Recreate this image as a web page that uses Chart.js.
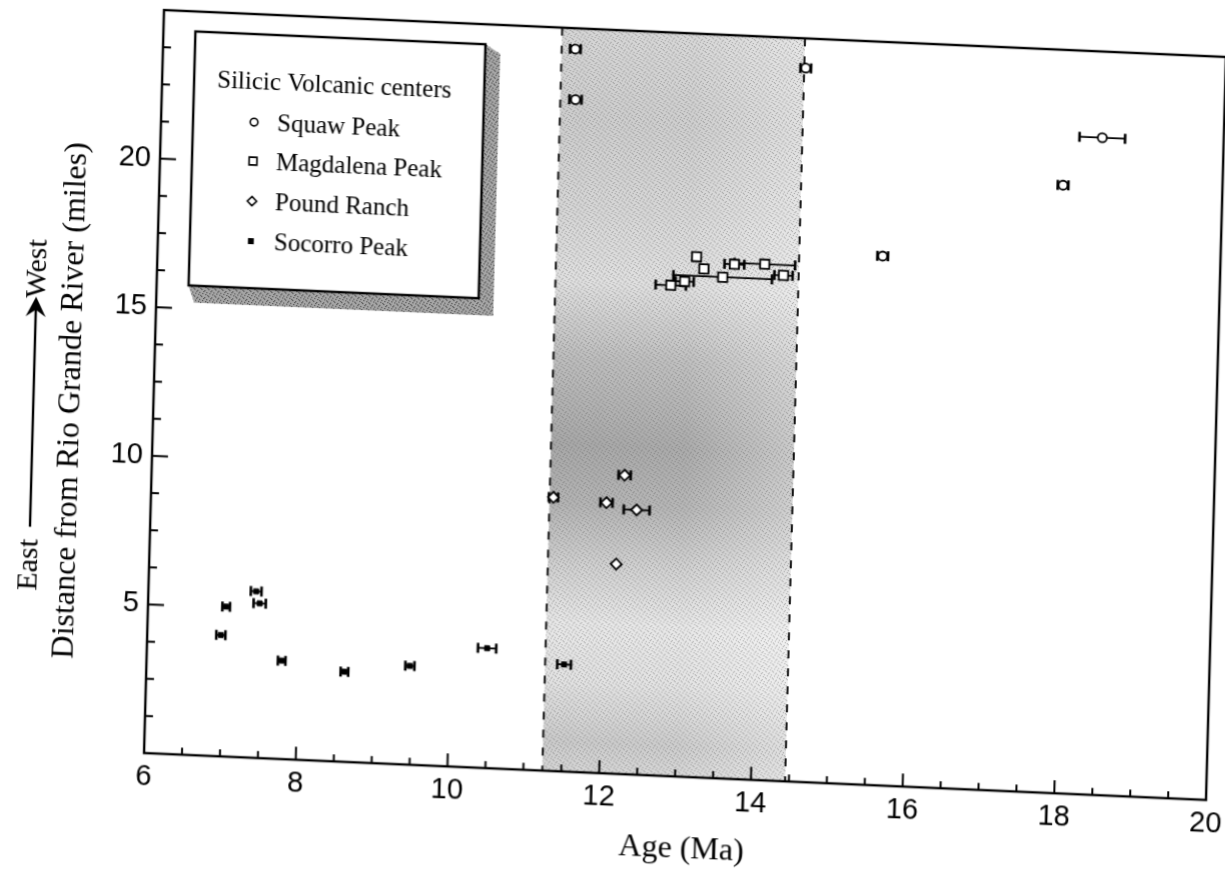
<!DOCTYPE html>
<html><head><meta charset="utf-8">
<script src="https://cdn.jsdelivr.net/npm/chart.js@4.4.1/dist/chart.umd.min.js"></script>
<style>
html,body{margin:0;padding:0;background:#fff;overflow:hidden;}
#wrap{width:1225px;height:877px;position:relative;overflow:hidden;}
#c{display:block;transform-origin:144px 753px;transform:matrix(1,0.0442,-0.0269,1,0,0);}
</style></head><body><div id="wrap"><canvas id="c" width="1225" height="877"></canvas></div>
<script>
// ---- data ----
const xTickLabels = ['6','8','10','12','14','16','18','20'];
const yTickLabels = ['5','10','15','20'];
const seriesNames = ['Squaw Peak','Magdalena Peak','Pound Ranch','Socorro Peak'];
const legendTitle = 'Silicic Volcanic centers';
const xTitle = 'Age (Ma)';
const yTitle = 'Distance from Rio Grande River (miles)';

const squawAge  = [11.43, 11.45, 14.47, 15.55, 17.9, 18.4];
const squawDist = [24.3, 22.6, 24.0, 17.8, 20.45, 22.1];
const squawErr  = [0.07, 0.08, 0.07, 0.07, 0.07, 0.3];

const magAge  = [12.77, 12.95, 13.1, 13.2, 13.45, 13.6, 14.0, 14.25];
const magDist = [16.5, 16.65, 17.5, 17.1, 16.85, 17.3, 17.35, 17.0];
const magErr  = [0.2, 0.12, 0.05, 0.05, 0.65, 0.13, 0.4, 0.12];

const poundAge  = [11.3, 12.0, 12.23, 12.4, 12.15];
const poundDist = [9.2, 9.1, 10.05, 8.9, 7.05];
const poundErr  = [0.06, 0.08, 0.08, 0.17, 0];

const socAge  = [6.97, 7.03, 7.42, 7.47, 7.78, 8.61, 9.47, 10.48, 11.5];
const socDist = [4.08, 5.04, 5.6, 5.2, 3.31, 3.03, 3.32, 4.03, 3.6];
const socErr  = [0.06, 0.05, 0.07, 0.08, 0.05, 0.05, 0.06, 0.12, 0.09];

const bandAge = [11.25, 14.45];

function pts(xs, ys){ return xs.map((x,i)=>({x:x, y:ys[i]})); }

const SERIF = '"Liberation Serif", "Times New Roman", serif';
const SANS = '"Liberation Sans", Arial, sans-serif';

function stipple(ctx, dark){
  const t = document.createElement('canvas'); t.width = 7; t.height = 7;
  const c = t.getContext('2d'); c.fillStyle = dark;
  const dots = [[0,0],[3,1],[5,3],[1,4],[4,5],[6,6],[2,2]];
  dots.forEach(d=>c.fillRect(d[0],d[1],1,1));
  return ctx.createPattern(t,'repeat');
}

const refPlugin = {
  id:'ref',
  beforeDatasetsDraw(chart){
    const {ctx, chartArea:a, scales:{x,y}} = chart;
    const x0 = x.getPixelForValue(bandAge[0]), x1 = x.getPixelForValue(bandAge[1]);
    ctx.save();
    const g = ctx.createLinearGradient(0, a.top, 0, a.bottom);
    const stops = [[25,'#d6d6d6'],[22,'#cdcdcd'],[19,'#d6d6d6'],[16.5,'#e0e0e0'],[14,'#bebebe'],[11,'#a8a8a8'],[9,'#b4b4b4'],[7,'#d0d0d0'],[5,'#e8e8e8'],[3,'#e2e2e2'],[1,'#cbcbcb'],[0,'#d6d6d6']];
    stops.forEach(s=>g.addColorStop((25-s[0])/25, s[1]));
    ctx.fillStyle = g;
    ctx.fillRect(x0, a.top, x1-x0, a.bottom-a.top);
    const h = ctx.createLinearGradient(x0,0,x1,0);
    h.addColorStop(0,'rgba(255,255,255,0)');
    h.addColorStop(0.55,'rgba(255,255,255,0.05)');
    h.addColorStop(1,'rgba(255,255,255,0.4)');
    ctx.fillStyle = h;
    ctx.fillRect(x0, a.top, x1-x0, a.bottom-a.top);
    ctx.globalAlpha = 0.45;
    ctx.fillStyle = stipple(ctx,'#444');
    ctx.fillRect(x0, a.top, x1-x0, a.bottom-a.top);
    ctx.globalAlpha = 1;
    ctx.strokeStyle = '#111'; ctx.lineWidth = 2; ctx.setLineDash([8,10]);
    [x0,x1].forEach(px=>{ctx.beginPath(); ctx.moveTo(px,a.top); ctx.lineTo(px,a.bottom); ctx.stroke();});
    ctx.setLineDash([]);
    // error bars
    chart.data.datasets.forEach(ds=>{
      ds.data.forEach((p,i)=>{
        const e = ds.xErr[i]; if(!e) return;
        const py = y.getPixelForValue(p.y);
        const xl = x.getPixelForValue(p.x-e), xr = x.getPixelForValue(p.x+e);
        ctx.strokeStyle='#000';
        ctx.lineWidth = 1.8;
        ctx.beginPath(); ctx.moveTo(xl,py); ctx.lineTo(xr,py); ctx.stroke();
        ctx.lineWidth = 2.6;
        ctx.beginPath(); ctx.moveTo(xl,py-5); ctx.lineTo(xl,py+5); ctx.moveTo(xr,py-5); ctx.lineTo(xr,py+5); ctx.stroke();
      });
    });
    ctx.restore();
  },
  afterDraw(chart){
    const {ctx, chartArea:a, scales:{x,y}} = chart;
    ctx.save();
    ctx.strokeStyle='#000';
    ctx.lineWidth = 2;
    x.ticks.forEach(t=>{
      const px = x.getPixelForValue(t.value);
      const len = xTickLabels.includes(String(t.value)) ? 13 : 7;
      ctx.beginPath(); ctx.moveTo(px,a.bottom); ctx.lineTo(px,a.bottom-len); ctx.stroke();
    });
    y.ticks.forEach(t=>{
      const py = y.getPixelForValue(t.value);
      const len = yTickLabels.includes(String(t.value)) ? 16 : 8;
      ctx.beginPath(); ctx.moveTo(a.left,py); ctx.lineTo(a.left+len,py); ctx.stroke();
    });
    ctx.lineWidth = 2.4;
    ctx.strokeRect(a.left, a.top, a.right-a.left, a.bottom-a.top);

    // legend box
    const L=176, T=30, W=290, H=254, R=L+W, B=T+H;
    ctx.beginPath();
    ctx.moveTo(R,T); ctx.lineTo(R+15,T+9); ctx.lineTo(R+15,B+17); ctx.lineTo(L+6,B+17); ctx.lineTo(L,B); ctx.closePath();
    ctx.fillStyle='#a6a6a6'; ctx.fill();
    ctx.fillStyle = stipple(ctx,'#333'); ctx.fill();
    ctx.fillStyle='#fff'; ctx.fillRect(L,T,W,H);
    ctx.lineWidth=2.4; ctx.strokeStyle='#000'; ctx.strokeRect(L,T,W,H);
    ctx.fillStyle='#000';
    ctx.font = '25px '+SERIF; ctx.textBaseline='middle'; ctx.textAlign='left';
    ctx.fillText(legendTitle, 199, 78);
    const rows=[118,157,197,237];
    chart.data.datasets.forEach((ds,i)=>{
      ctx.save();
      ctx.strokeStyle='#000'; ctx.fillStyle = ds.pointBackgroundColor; ctx.lineWidth=1.6;
      Chart.helpers.drawPoint(ctx,{pointStyle:ds.pointStyle, radius:ds.pointRadius*0.85, borderWidth:1.6, rotation:0}, 237, rows[i]);
      ctx.restore();
      ctx.fillStyle='#000';
      ctx.fillText(ds.label, 260, rows[i]+1);
    });

    // axis titles
    ctx.font = '32px '+SERIF; ctx.textAlign='center';
    ctx.fillText(xTitle, 683, 826);
    ctx.save(); ctx.translate(62,404); ctx.rotate(-Math.PI/2); ctx.fillText(yTitle,0,0); ctx.restore();
    ctx.font = '30px '+SERIF;
    ctx.save(); ctx.translate(24,570); ctx.rotate(-Math.PI/2); ctx.fillText('East',0,0); ctx.restore();
    ctx.save(); ctx.translate(25,274); ctx.rotate(-Math.PI/2); ctx.fillText('West',0,0); ctx.restore();
    ctx.lineWidth=2.4; ctx.beginPath(); ctx.moveTo(24,532); ctx.lineTo(24,312); ctx.stroke();
    ctx.beginPath(); ctx.moveTo(24,302); ctx.lineTo(14,322); ctx.lineTo(24,315); ctx.lineTo(34,322); ctx.closePath(); ctx.fill();
    ctx.restore();
  }
};

new Chart(document.getElementById('c'), {
  type:'scatter',
  data:{datasets:[
    {label:seriesNames[0], data:pts(squawAge,squawDist), xErr:squawErr, pointStyle:'circle', pointRadius:4.5, pointBorderWidth:1.8, pointBackgroundColor:'#fff', pointBorderColor:'#000'},
    {label:seriesNames[1], data:pts(magAge,magDist), xErr:magErr, pointStyle:'rect', pointRadius:6.5, pointBorderWidth:1.8, pointBackgroundColor:'#fff', pointBorderColor:'#000'},
    {label:seriesNames[2], data:pts(poundAge,poundDist), xErr:poundErr, pointStyle:'rectRot', pointRadius:5.5, pointBorderWidth:1.8, pointBackgroundColor:'#fff', pointBorderColor:'#000'},
    {label:seriesNames[3], data:pts(socAge,socDist), xErr:socErr, pointStyle:'rect', pointRadius:3.5, pointBorderWidth:1, pointBackgroundColor:'#000', pointBorderColor:'#000'}
  ]},
  options:{
    responsive:false, animation:false, devicePixelRatio:1,
    layout:{padding:{left:0, top:10, right:19, bottom:0}},
    plugins:{legend:{display:false}, tooltip:{enabled:false}},
    scales:{
      x:{type:'linear', min:6, max:20,
        grid:{display:false, drawTicks:false}, border:{display:false},
        ticks:{stepSize:0.5, autoSkip:false, maxRotation:0, padding:7, color:'#000', font:{family:SANS, size:29},
          callback:(v)=> xTickLabels.includes(String(v)) ? String(v) : ''},
        afterFit:(s)=>{ s.height = 124; s.paddingLeft = 0; s.paddingRight = 0; }
      },
      y:{type:'linear', min:0, max:25,
        grid:{display:false, drawTicks:false}, border:{display:false},
        ticks:{stepSize:1.25, autoSkip:false, padding:9, color:'#000', font:{family:SANS, size:29},
          callback:(v)=> yTickLabels.includes(String(v)) ? String(v) : ''},
        afterFit:(s)=>{ s.width = 144; s.paddingTop = 0; s.paddingBottom = 0; }
      }
    }
  },
  plugins:[refPlugin]
});
</script></body></html>
